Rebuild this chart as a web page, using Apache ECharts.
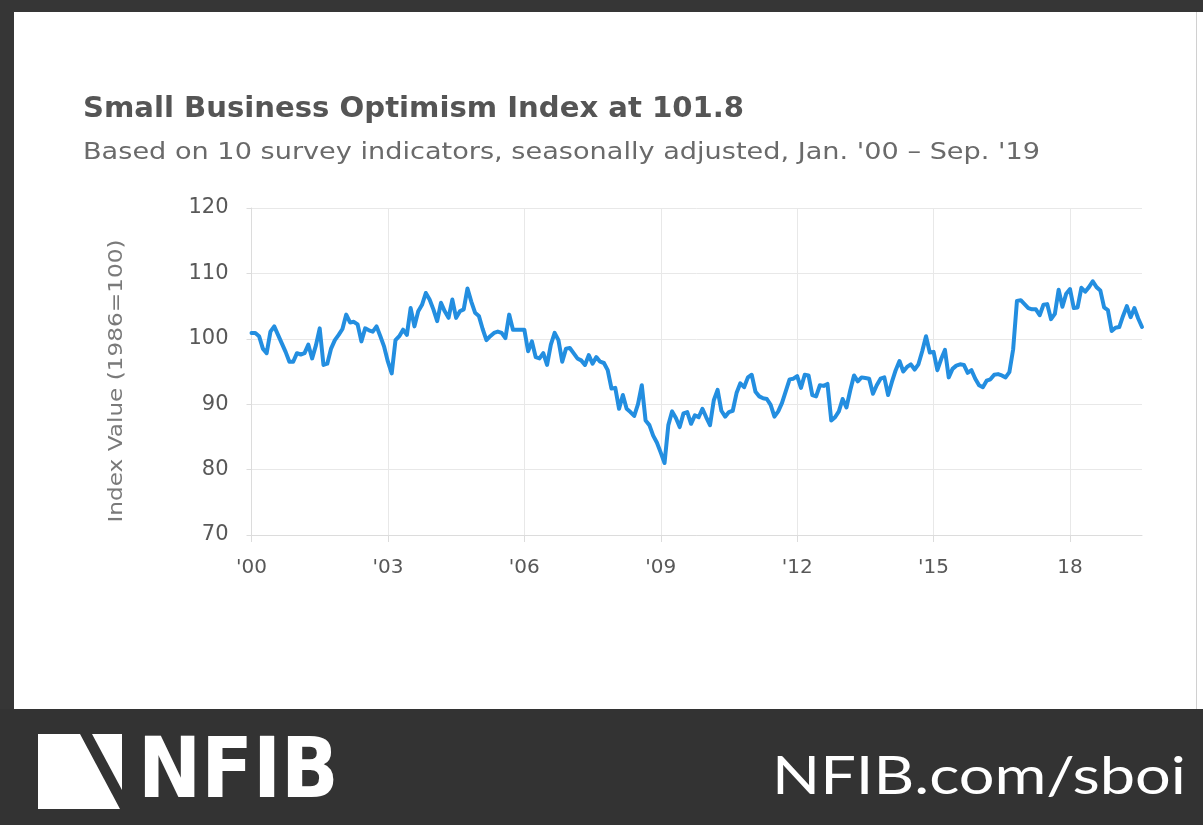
<!DOCTYPE html>
<html><head><meta charset="utf-8">
<script src="https://cdn.jsdelivr.net/npm/echarts@6/dist/echarts.min.js"></script>
<style>html,body{margin:0;padding:0;background:#fff;overflow:hidden}#c{width:1203px;height:825px}</style>
</head><body><div id="c"></div>
<script>
// Small Business Optimism Index, monthly values as plotted, ending Sep 2019
const y2000 = [100.9,100.9,100.4,98.5,97.8,101.1,101.9,100.6,99.3,98.0,96.5];
const y2001 = [96.5,97.8,97.6,97.8,99.1,97.0,99.0,101.6,96.0,96.2,98.5,99.8];
const y2002 = [100.6,101.5,103.7,102.5,102.6,102.2,99.6,101.6,101.3,101.1,101.9,100.4];
const y2003 = [98.8,96.5,94.7,99.8,100.4,101.4,100.6,104.7,101.9,104.2,105.2,107.0];
const y2004 = [106.0,104.5,102.7,105.5,104.2,103.2,106.0,103.2,104.2,104.5,107.7,105.7];
const y2005 = [104.0,103.5,101.5,99.8,100.4,100.9,101.1,100.9,100.1,103.7,101.4,101.4];
const y2006 = [101.4,101.4,98.1,99.6,97.2,97.0,97.8,96.0,99.1,100.9,99.8,96.5];
const y2007 = [98.5,98.6,97.8,97.0,96.7,96.0,97.5,96.2,97.2,96.5,96.3,95.2];
const y2008 = [92.4,92.5,89.3,91.4,89.3,88.8,88.2,90.0,92.9,87.5,86.8,85.2];
const y2009 = [84.1,82.6,81.0,86.8,88.9,87.9,86.5,88.6,88.8,87.0,88.3,88.0];
const y2010 = [89.3,88.0,86.8,90.6,92.2,89.0,88.1,88.8,89.0,91.7,93.2,92.6];
const y2011 = [94.1,94.5,91.9,91.2,90.9,90.8,89.9,88.1,88.9,90.2,92.0,93.8];
const y2012 = [93.9,94.3,92.5,94.5,94.4,91.4,91.2,92.9,92.8,93.1,87.5,88.0];
const y2013 = [88.9,90.8,89.5,92.1,94.4,93.5,94.1,94.0,93.9,91.6,92.9,93.9];
const y2014 = [94.1,91.4,93.4,95.2,96.6,95.0,95.7,96.1,95.3,96.1,98.1,100.4];
const y2015 = [97.9,98.0,95.2,96.9,98.3,94.1,95.4,95.9,96.1,96.0,94.8,95.2];
const y2016 = [93.9,92.9,92.6,93.6,93.8,94.5,94.6,94.4,94.1,94.9,98.4,105.8];
const y2017 = [105.9,105.3,104.7,104.5,104.5,103.6,105.2,105.3,103.0,103.8,107.5,104.9];
const y2018 = [106.9,107.6,104.7,104.8,107.8,107.2,107.9,108.8,107.9,107.4,104.8,104.4];
const y2019 = [101.2,101.7,101.8,103.5,105.0,103.3,104.7,103.1,101.8];

const blocks = [y2000,y2001,y2002,y2003,y2004,y2005,y2006,y2007,y2008,y2009,
                y2010,y2011,y2012,y2013,y2014,y2015,y2016,y2017,y2018,y2019];
const tickLabels = ["'00","'03","'06","'09","'12","'15","18"];
const monthNames = ['Jan','Feb','Mar','Apr','May','Jun','Jul','Aug','Sep','Oct','Nov','Dec'];

const values = [].concat(...blocks);
const categories = [];
{
  let y = 2019, m = 8; // last point: Sep 2019
  for (let i = values.length - 1; i >= 0; i--) {
    categories[i] = monthNames[m] + ' ' + y;
    m--; if (m < 0) { m = 11; y--; }
  }
}

const FONT = '"DejaVu Sans", sans-serif';
const chart = echarts.init(document.getElementById('c'), null, {renderer: 'canvas'});
const tickIdx = idx => idx % 36 === 0;

chart.setOption({
  backgroundColor: '#ffffff',
  animation: false,
  grid: {left: 251.5, right: 61, top: 208, bottom: 290},
  xAxis: {
    type: 'category',
    data: categories,
    boundaryGap: false,
    axisLine: {show: true, lineStyle: {color: '#dcdcdc', width: 1}},
    axisTick: {show: true, interval: tickIdx, length: 7, lineStyle: {color: '#dcdcdc'}},
    splitLine: {show: true, interval: tickIdx, lineStyle: {color: '#e8e8e8', width: 1}},
    axisLabel: {
      interval: tickIdx, margin: 23, color: '#585858', fontFamily: FONT, fontSize: 20,
      formatter: (val, idx) => tickLabels[Math.round(idx / 36)] || ''
    }
  },
  yAxis: {
    type: 'value', min: 70, max: 120, interval: 10,
    axisLine: {show: true, lineStyle: {color: '#dcdcdc', width: 1}},
    axisTick: {show: true, length: 5, lineStyle: {color: '#dcdcdc'}},
    splitLine: {show: true, lineStyle: {color: '#e8e8e8', width: 1}},
    axisLabel: {margin: 23, color: '#585858', fontFamily: FONT, fontSize: 21}
  },
  series: [{
    type: 'line', data: values, showSymbol: false, symbol: 'none',
    lineStyle: {color: '#238ee0', width: 4, join: 'round', cap: 'round'}
  }],
  graphic: [
    {type: 'rect', shape: {x: 0, y: 0, width: 1203, height: 12}, style: {fill: '#363636'}, silent: true},
    {type: 'rect', shape: {x: 0, y: 0, width: 14, height: 825}, style: {fill: '#363636'}, silent: true},
    {type: 'rect', shape: {x: 1196, y: 12, width: 1, height: 697}, style: {fill: '#d0d0d0'}, silent: true},
    {type: 'text', x: 83, y: 110, scaleX: 1.04,
     style: {text: 'Small Business Optimism Index at 101.8', fill: '#555555', verticalAlign: 'middle',
             font: 'bold 28px "DejaVu Sans", sans-serif'}, silent: true},
    {type: 'text', x: 83, y: 153, scaleX: 1.18,
     style: {text: "Based on 10 survey indicators, seasonally adjusted, Jan. '00 \u2013 Sep. '19", fill: '#6a6a6a',
             verticalAlign: 'middle', font: '23px "DejaVu Sans", sans-serif'}, silent: true},
    {type: 'text', x: 117.5, y: 381, rotation: Math.PI / 2, scaleX: 1.22,
     style: {text: 'Index Value (1986=100)', fill: '#7a7a7a', align: 'center', verticalAlign: 'middle',
             font: '19px "DejaVu Sans", sans-serif'}, silent: true},
    {type: 'rect', shape: {x: 0, y: 709, width: 1203, height: 116}, style: {fill: '#333333'}, silent: true},
    {type: 'polygon', shape: {points: [[38,734],[80,734],[120,809],[38,809]]}, style: {fill: '#ffffff'}, silent: true},
    {type: 'polygon', shape: {points: [[92,734],[122,734],[122,790]]}, style: {fill: '#ffffff'}, silent: true},
    {type: 'text', x: 138, y: 775, scaleX: 1.0,
     style: {text: 'NFIB', fill: '#ffffff', verticalAlign: 'middle',
             font: 'bold 84px "DejaVu Sans Condensed", "DejaVu Sans", sans-serif'}, silent: true},
    {type: 'text', x: 1186, y: 777, scaleX: 1.19,
     style: {text: 'NFIB.com/sboi', fill: '#ffffff', align: 'right', verticalAlign: 'middle',
             font: '53px "Lato", sans-serif'}, silent: true}
  ]
});
</script>
</body></html>
